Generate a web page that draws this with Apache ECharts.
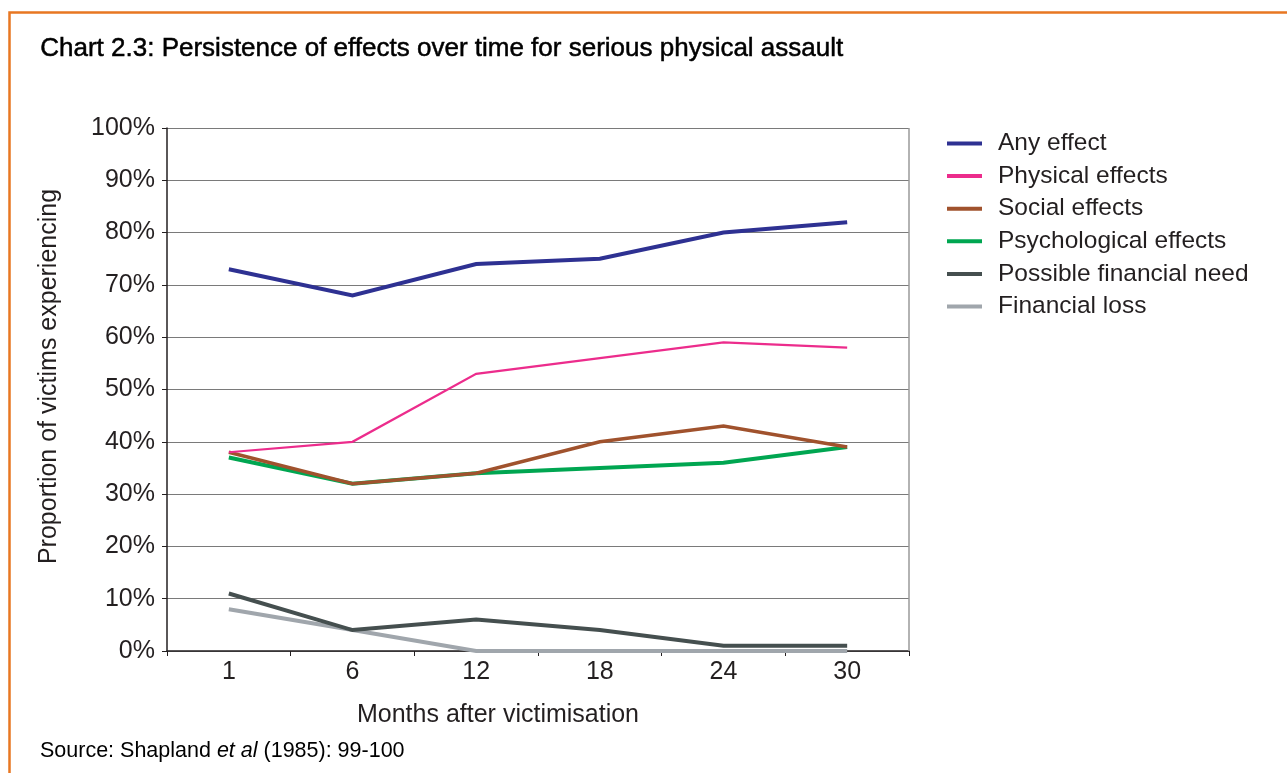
<!DOCTYPE html>
<html><head><meta charset="utf-8">
<script src="https://cdn.jsdelivr.net/npm/echarts@6/dist/echarts.min.js"></script>
<style>html,body{margin:0;padding:0;background:#fff}#c{width:1287px;height:773px}</style>
</head><body><div id="c"></div>
<script>
const categories = ['1', '6', '12', '18', '24', '30'];
const anyEffect = [73, 68, 74, 75, 80, 82];
const physicalEffects = [38, 40, 53, 56, 59, 58];
const socialEffects = [38, 32, 34, 40, 43, 39];
const psychologicalEffects = [37, 32, 34, 35, 36, 39];
const possibleFinancialNeed = [11, 4, 6, 4, 1, 1];
const financialLoss = [8, 4, 0, 0, 0, 0];
const seriesNames = ['Any effect', 'Physical effects', 'Social effects', 'Psychological effects', 'Possible financial need', 'Financial loss'];
const seriesData = [anyEffect, physicalEffects, socialEffects, psychologicalEffects, possibleFinancialNeed, financialLoss];
const colors = ['#2E3192', '#EC2C8C', '#A0522D', '#00A651', '#454F4F', '#A0A6AC'];
const widths = [4, 2.2, 3.5, 4, 4, 4];
const FONT = 'Liberation Sans, Arial, sans-serif';

const chart = echarts.init(document.getElementById('c'), null, {renderer: 'canvas'});
const drawOrder = [5, 4, 3, 2, 1, 0];
chart.setOption({
  animation: false,
  backgroundColor: '#fff',
  textStyle: {fontFamily: FONT},
  grid: {left: 167, right: 378, top: 128, bottom: 122, containLabel: false},
  legend: {
    orient: 'vertical', left: 947, top: 131, itemGap: 7.6, padding: 0,
    itemWidth: 35, itemHeight: 22, icon: 'path://M0,9 L35,9 L35,13 L0,13 Z',
    textStyle: {fontFamily: FONT, fontSize: 24.5, color: '#231F20', padding: [0,0,0,11]},
    data: seriesNames.map((n, i) => ({name: n, itemStyle: {color: colors[i]}}))
  },
  xAxis: {
    type: 'category', data: categories, boundaryGap: true,
    name: 'Months after victimisation', nameLocation: 'middle', nameGap: 52,
    nameTextStyle: {fontFamily: FONT, fontSize: 25, color: '#231F20', padding: [0, 80, 0, 0]},
    axisLine: {lineStyle: {color: '#231F20', width: 1.5}},
    axisTick: {show: true, length: 5, lineStyle: {color: '#231F20'}},
    axisLabel: {fontSize: 25, color: '#231F20', margin: 9, fontFamily: FONT}
  },
  yAxis: {
    type: 'value', min: 0, max: 100, interval: 10,
    name: 'Proportion of victims experiencing', nameLocation: 'middle', nameGap: 105,
    nameTextStyle: {fontFamily: FONT, fontSize: 25, color: '#231F20', padding: [0, 0, 0, 26]},
    axisLine: {show: true, lineStyle: {color: '#231F20', width: 1.5}},
    axisTick: {show: true, length: 5, lineStyle: {color: '#231F20'}},
    axisLabel: {fontSize: 25, color: '#231F20', margin: 12, formatter: '{value}%', fontFamily: FONT},
    splitLine: {show: true, lineStyle: {color: '#7a7a7a', width: 1.2}}
  },
  graphic: [
    {type: 'rect', left: 7, top: 10, shape: {x: 0, y: 0, width: 1295, height: 800}, style: {fill: 'none', stroke: '#E87722', lineWidth: 2.5}, silent: true},
    {type: 'line', shape: {x1: 909, y1: 128, x2: 909, y2: 651}, style: {stroke: '#9a9a9a', lineWidth: 1.5}, z: 1},
    {type: 'text', left: 40, top: 36, style: {text: 'Chart 2.3: Persistence of effects over time for serious physical assault', font: '26px ' + FONT, fill: '#000', stroke: '#000', lineWidth: 0.5}},
    {type: 'text', left: 40, top: 740, style: {
      text: '{n|Source: Shapland }{i|et al}{n| (1985): 99-100}',
      rich: {n: {fontFamily: FONT, fontSize: 21.5, color: '#231F20'}, i: {fontFamily: FONT, fontSize: 21.5, fontStyle: 'italic', color: '#231F20'}}
    }}
  ],
  series: drawOrder.map(i => ({
    name: seriesNames[i], type: 'line', data: seriesData[i],
    symbol: 'none', color: colors[i],
    lineStyle: {color: colors[i], width: widths[i], join: 'miter'},
    z: 10 - i
  }))
});
</script></body></html>
